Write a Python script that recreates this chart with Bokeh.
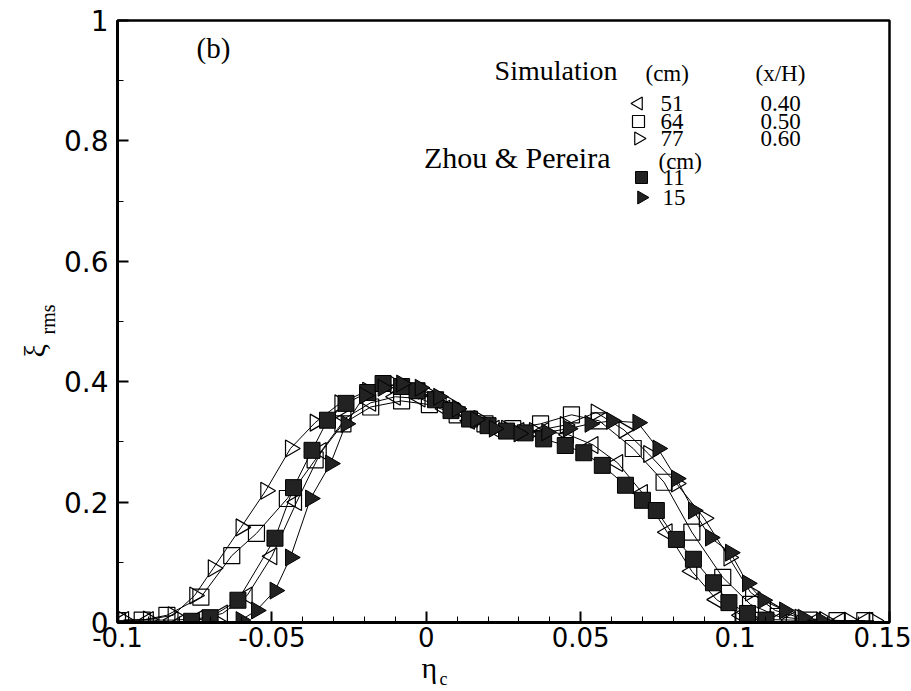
import numpy as np
from bokeh.plotting import figure
from bokeh.models import FixedTicker, Label, Range1d, Title
from bokeh.embed import file_html
from bokeh.resources import INLINE

# ---------------- data ----------------
# Simulation, 51 cm (x/H = 0.40)  -- open left-pointing triangles
sim51_x = [-0.098, -0.090, -0.082, -0.074, -0.066, -0.058, -0.050, -0.042, -0.034, -0.026,
           -0.018, -0.010, -0.002, 0.006, 0.014, 0.022, 0.030, 0.038, 0.046, 0.054,
           0.062, 0.070, 0.078, 0.086, 0.094, 0.102, 0.110, 0.118, 0.126, 0.134, 0.142]
sim51_y = [0.004, 0.004, 0.004, 0.006, 0.015, 0.045, 0.110, 0.200, 0.285, 0.340,
           0.365, 0.375, 0.372, 0.355, 0.335, 0.322, 0.318, 0.318, 0.312, 0.295,
           0.265, 0.215, 0.150, 0.085, 0.038, 0.012, 0.005, 0.004, 0.003, 0.003, 0.003]

# Simulation, 64 cm (x/H = 0.50)  -- open squares
sim64_x = [-0.100, -0.092, -0.084, -0.073, -0.063, -0.055, -0.045, -0.036, -0.027, -0.018,
           -0.008, 0.001, 0.010, 0.019, 0.028, 0.037, 0.047, 0.056, 0.067, 0.077,
           0.086, 0.096, 0.105, 0.114, 0.124, 0.133, 0.142]
sim64_y = [0.003, 0.004, 0.012, 0.042, 0.111, 0.148, 0.206, 0.270, 0.330, 0.358,
           0.368, 0.362, 0.345, 0.330, 0.322, 0.330, 0.345, 0.335, 0.289, 0.233,
           0.150, 0.075, 0.030, 0.010, 0.004, 0.003, 0.003]

# Simulation, 77 cm (x/H = 0.60)  -- open right-pointing triangles
sim77_x = [-0.098, -0.090, -0.082, -0.075, -0.069, -0.060, -0.052, -0.044, -0.036, -0.028,
           -0.019, -0.010, -0.001, 0.008, 0.017, 0.026, 0.035, 0.045, 0.055, 0.064,
           0.072, 0.081, 0.090, 0.098, 0.105, 0.113, 0.121, 0.129, 0.137, 0.145]
sim77_y = [0.004, 0.005, 0.012, 0.045, 0.090, 0.158, 0.219, 0.289, 0.332, 0.364,
           0.385, 0.395, 0.385, 0.362, 0.338, 0.322, 0.318, 0.328, 0.349, 0.320,
           0.280, 0.231, 0.173, 0.108, 0.050, 0.020, 0.008, 0.004, 0.003, 0.003]

# Zhou & Pereira, 11 cm  -- filled squares
zp11_x = [-0.076, -0.070, -0.061, -0.049, -0.043, -0.037, -0.032, -0.026, -0.019, -0.014,
          -0.008, -0.003, 0.003, 0.008, 0.014, 0.020, 0.026, 0.032, 0.038, 0.045,
          0.051, 0.057, 0.0645, 0.070, 0.0745, 0.081, 0.0865, 0.093, 0.098, 0.104, 0.110]
zp11_y = [0.002, 0.008, 0.037, 0.140, 0.224, 0.286, 0.336, 0.364, 0.382, 0.397,
          0.392, 0.385, 0.370, 0.352, 0.338, 0.327, 0.318, 0.315, 0.305, 0.294,
          0.282, 0.261, 0.228, 0.203, 0.186, 0.138, 0.105, 0.066, 0.033, 0.015, 0.004]

# Zhou & Pereira, 15 cm  -- filled right-pointing triangles
zp15_x = [-0.060, -0.055, -0.049, -0.044, -0.0375, -0.031, -0.026, -0.020, -0.014, -0.008,
          -0.002, 0.004, 0.010, 0.016, 0.022, 0.030, 0.039, 0.046, 0.053, 0.060,
          0.0685, 0.075, 0.081, 0.0865, 0.092, 0.0985, 0.104, 0.109, 0.116, 0.122, 0.128]
zp15_y = [0.004, 0.020, 0.053, 0.108, 0.206, 0.264, 0.330, 0.377, 0.390, 0.397,
          0.390, 0.375, 0.355, 0.337, 0.322, 0.314, 0.316, 0.322, 0.330, 0.335,
          0.332, 0.289, 0.239, 0.186, 0.141, 0.116, 0.065, 0.037, 0.020, 0.008, 0.003]

x_ticks = [-0.1, -0.05, 0.0, 0.05, 0.1, 0.15]
x_tick_labels = ["-0.1", "-0.05", "0", "0.05", "0.1", "0.15"]
y_ticks = [0.0, 0.2, 0.4, 0.6, 0.8, 1.0]
y_tick_labels = ["0", "0.2", "0.4", "0.6", "0.8", "1"]

sim_labels = ["51", "64", "77"]
sim_xh = ["0.40", "0.50", "0.60"]
zp_labels = ["11", "15"]

# ---------------- layout constants (canvas pixels) ----------------
W, H = 911, 691
FL, FR, FT, FB = 117, 889, 20, 622          # frame edges
XR = (-0.1, 0.15)
YR = (0.0, 1.0)


def px2data(px, py):
    return (XR[0] + (px - FL) / (FR - FL) * (XR[1] - XR[0]),
            YR[0] + (FB - py) / (FB - FT) * (YR[1] - YR[0]))


# ---------------- figure ----------------
p = figure(width=W, height=H, x_range=Range1d(*XR), y_range=Range1d(*YR),
           output_backend="svg", toolbar_location=None,
           min_border_left=FL, min_border_right=W - FR, min_border_top=FT,
           min_border_bottom=H - FB)
p.background_fill_color = "white"
p.border_fill_color = "white"
p.grid.visible = False
p.outline_line_color = "black"
p.outline_line_width = 2.5

minor_x = [round(-0.1 + 0.01 * i, 3) for i in range(26)]
minor_x = [v for v in minor_x if all(abs(v - t) > 1e-9 for t in x_ticks)]
p.xaxis.ticker = FixedTicker(ticks=x_ticks, minor_ticks=minor_x)
p.yaxis.ticker = FixedTicker(ticks=y_ticks, minor_ticks=[0.1, 0.3, 0.5, 0.7, 0.9])
p.xaxis.major_label_overrides = {t: l for t, l in zip(x_ticks, x_tick_labels)}
p.yaxis.major_label_overrides = {t: l for t, l in zip(y_ticks, y_tick_labels)}

for ax in (p.xaxis[0], p.yaxis[0]):
    ax.axis_line_color = "black"
    ax.axis_line_width = 3
    ax.major_tick_in = 11
    ax.major_tick_out = 0
    ax.minor_tick_in = 6
    ax.minor_tick_out = 0
    ax.major_tick_line_width = 2
    ax.minor_tick_line_width = 1
    ax.major_label_text_font = "DejaVu Sans"
    ax.major_label_text_color = "black"
p.xaxis.major_label_text_font_size = "26px"
p.yaxis.major_label_text_font_size = "28px"
p.xaxis.major_label_standoff = 4
p.yaxis.major_label_standoff = 9

open_kw = dict(line_color="black", fill_alpha=0, line_width=1.2)
fill_kw = dict(line_color="black", fill_color="#222222", line_width=1)

series = [
    (sim51_x, sim51_y, "triangle", np.pi / 2, 17, open_kw),
    (sim64_x, sim64_y, "square", 0, 16, open_kw),
    (sim77_x, sim77_y, "triangle", -np.pi / 2, 17, open_kw),
    (zp11_x, zp11_y, "square", 0, 16, fill_kw),
    (zp15_x, zp15_y, "triangle", -np.pi / 2, 17, fill_kw),
]
for xs, ys, mk, ang, sz, kw in series:
    p.line(xs, ys, line_color="black", line_width=1)
for xs, ys, mk, ang, sz, kw in series:
    p.scatter(xs, ys, marker=mk, angle=ang, size=sz, **kw)


# ---------------- texts ----------------
def lab(px, py, text, size="23px", font="Liberation Serif", **kw):
    kw.setdefault("text_baseline", "middle")
    p.add_layout(Label(x=px - FL, y=FB - py, x_units="screen", y_units="screen", text=text,
                       text_font=font, text_font_size=size, text_color="black", **kw))


# legend keys (symbol shapes of each series, at legend positions)
sim_rows_py = [103, 121, 138]
zp_rows_py = [177, 197]
key_specs = [(series[0], 638, sim_rows_py[0]), (series[1], 638, sim_rows_py[1]),
             (series[2], 638, sim_rows_py[2]), (series[3], 641, zp_rows_py[0]),
             (series[4], 641, zp_rows_py[1])]
for (xs, ys, mk, ang, sz, kw), kx, ky in key_specs:
    dx, dy = px2data(kx, ky)
    p.scatter([dx], [dy], marker=mk, angle=ang, size=13 if mk == "triangle" else 12, **kw)

lab(617, 70, "Simulation", "28px", text_align="right")
lab(645, 73, "(cm)", "23px")
lab(755, 73, "(x/H)", "23px")
for py, t, v in zip(sim_rows_py, sim_labels, sim_xh):
    lab(660, py, t)
    lab(760, py, v)
lab(610, 157, "Zhou & Pereira", "30px", text_align="right")
lab(658, 161, "(cm)", "23px")
for py, t in zip(zp_rows_py, zp_labels):
    lab(662, py, t)
lab(196, 47, "(b)", "29px")


# axis titles (side-panel titles: main symbol + subscript)
def side_title(text, side, size, start, standoff, font="Liberation Serif"):
    # 'start' = canvas pixel where the text begins (left edge below / bottom edge left)
    off = (start - FL) if side == "below" else (FB - start)
    t = Title(text=text, align="left", offset=off, standoff=standoff,
              vertical_align="top", text_font=font, text_font_size=size,
              text_font_style="normal", text_color="black")
    p.add_layout(t, side)


side_title("\u03b7", "below", "30px", 421, 3)
side_title("c", "below", "18px", 439, -38)
side_title("rms", "left", "20px", 334, 0)
side_title("\u03be", "left", "30px", 357, -33)

open("out.html", "w").write(file_html(p, INLINE))
